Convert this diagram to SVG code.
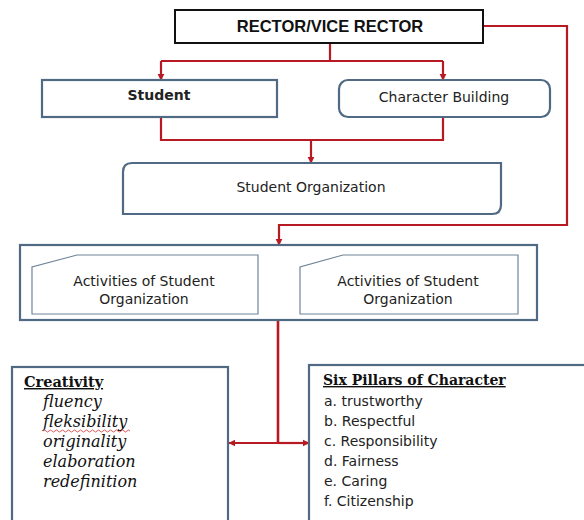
<svg xmlns="http://www.w3.org/2000/svg" width="584" height="520" viewBox="0 0 584 520">
<style>
.box{fill:#fff;stroke:#4f6a82;stroke-width:2.2}
.inner{fill:#fff;stroke:#6f8499;stroke-width:1.2}
.conn{fill:none;stroke:#b81a24;stroke-width:2.2}
.sans{font-family:"DejaVu Sans",Verdana,sans-serif;font-size:14px;fill:#222}
.it{font-family:"DejaVu Serif",serif;font-style:italic;font-size:16px;fill:#111}
</style>
<defs>
<marker id="ah" viewBox="0 0 10 10" refX="9" refY="5" markerWidth="3.2" markerHeight="3.2" orient="auto" markerUnits="strokeWidth">
<path d="M0,0 L10,5 L0,10 Z" fill="#b81a24"/>
</marker>
</defs>
<rect width="584" height="520" fill="#fff"/>
<g id="connectors">
<path class="conn" d="M330,43 V61 M161,61 H443"/>
<path class="conn" d="M161,61 V80" marker-end="url(#ah)"/>
<path class="conn" d="M443,61 V80" marker-end="url(#ah)"/>
<path class="conn" d="M161,117 V140 H443 V117"/>
<path class="conn" d="M311,140 V163" marker-end="url(#ah)"/>
<path class="conn" d="M483,26 H567 V225 H279 V245" marker-end="url(#ah)"/>
<path class="conn" style="stroke-width:2.6" d="M278,320 V443"/>
<path class="conn" d="M278,443 H229" marker-end="url(#ah)"/>
<path class="conn" d="M278,443 H309" marker-end="url(#ah)"/>
</g>
<g id="rector">
<rect x="175" y="10" width="308" height="33" fill="#fff" stroke="#111" stroke-width="2"/>
<text x="330" y="32" text-anchor="middle" font-family="'Liberation Sans',Arial,sans-serif" font-weight="bold" font-size="16.5" fill="#111">RECTOR/VICE RECTOR</text>
</g>
<g id="student">
<rect class="box" x="42" y="80" width="235" height="37"/>
<text x="159" y="100" text-anchor="middle" class="sans" font-weight="bold" font-size="13">Student</text>
</g>
<g id="character-building">
<rect class="box" x="339" y="80" width="211" height="37" rx="9"/>
<text x="444" y="102" text-anchor="middle" class="sans">Character Building</text>
</g>
<g id="student-organization">
<path class="box" d="M132,163 H501 V205 Q501,214 492,214 H123 V172 Q123,163 132,163 Z"/>
<text x="311" y="192" text-anchor="middle" class="sans">Student Organization</text>
</g>
<g id="activities">
<rect class="box" x="20" y="245" width="517" height="75" stroke-width="2.6"/>
<g id="activity-1">
<path class="inner" d="M32,267 V314 H258 V255 H77 Z"/>
<text x="144" y="286" text-anchor="middle" class="sans">Activities of Student</text>
<text x="144" y="304" text-anchor="middle" class="sans">Organization</text>
</g>
<g id="activity-2">
<path class="inner" d="M300,267 V314 H518 V255 H343 Z"/>
<text x="408" y="286" text-anchor="middle" class="sans">Activities of Student</text>
<text x="408" y="304" text-anchor="middle" class="sans">Organization</text>
</g>
</g>
<g id="creativity">
<rect class="box" x="12" y="367" width="216" height="170"/>
<text x="24" y="387" font-family="'DejaVu Serif',serif" font-weight="bold" font-size="14.5" fill="#111" text-decoration="underline">Creativity</text>
<text x="43" y="407" class="it">fluency</text>
<text x="43" y="427" class="it">fleksibility</text>
<path d="M43,431 q1.5,-2 3,0 t3,0 t3,0 t3,0 t3,0 t3,0 t3,0 t3,0 t3,0 t3,0 t3,0 t3,0 t3,0 t3,0 t3,0 t3,0 t3,0 t3,0 t3,0 t3,0 t3,0 t3,0 t3,0 t3,0 t3,0 t3,0 t3,0 t3,0 t3,0" fill="none" stroke="#d03030" stroke-width="0.8"/>
<text x="43" y="447" class="it">originality</text>
<text x="43" y="467" class="it">elaboration</text>
<text x="43" y="487" class="it">redefinition</text>
</g>
<g id="six-pillars">
<rect class="box" x="309" y="365" width="290" height="170"/>
<text x="323" y="385" font-family="'DejaVu Serif',serif" font-weight="bold" font-size="14" fill="#111" text-decoration="underline">Six Pillars of Character</text>
<text x="324" y="406" class="sans">a. trustworthy</text>
<text x="324" y="426" class="sans">b. Respectful</text>
<text x="324" y="446" class="sans">c. Responsibility</text>
<text x="324" y="466" class="sans">d. Fairness</text>
<text x="324" y="486" class="sans">e. Caring</text>
<text x="324" y="506" class="sans">f. Citizenship</text>
</g>
</svg>
